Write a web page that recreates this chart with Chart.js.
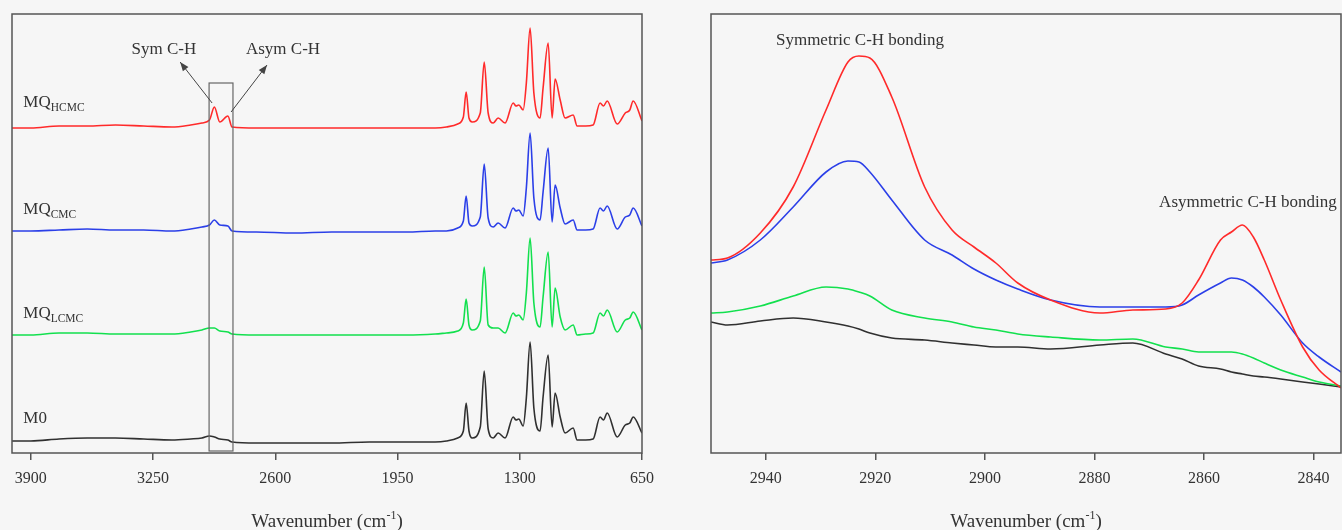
<!DOCTYPE html>
<html>
<head>
<meta charset="utf-8">
<script src="https://cdn.jsdelivr.net/npm/chart.js@4.4.1/dist/chart.umd.min.js"></script>
<style>
  body { margin: 0; background: #f6f6f6; }
  #wrap { position: relative; width: 1342px; height: 530px; }
  #fullChart { position: absolute; left: 0; top: 0; }
  #zoomChart { position: absolute; left: 670px; top: 0; }
</style>
</head>
<body>
<div id="wrap">
  <canvas id="fullChart" width="670" height="530"></canvas>
  <canvas id="zoomChart" width="672" height="530"></canvas>
</div>
<script>
// full range spectra, stacked (a.u.)
const fullWavenumbers = [4000, 3900, 3750, 3600, 3450, 3300, 3150, 3050, 2990, 2950, 2924, 2895, 2852, 2830, 2700, 2500, 2300, 2100, 1900, 1750,
  1690, 1630, 1600, 1585, 1570, 1553, 1510, 1489, 1468, 1441, 1415, 1378, 1335, 1320, 1305, 1282, 1265, 1245, 1225, 1192,
  1176, 1149, 1128, 1112, 1085, 1059, 1016, 995, 950, 910, 873, 855, 835, 782, 739, 715, 697, 650];
const fullHCMC = [3.25, 3.25, 3.27, 3.27, 3.28, 3.27, 3.26, 3.28, 3.30, 3.33, 3.46, 3.31, 3.37, 3.26, 3.25, 3.25, 3.25, 3.25, 3.25, 3.25,
  3.26, 3.29, 3.36, 3.61, 3.35, 3.31, 3.40, 3.91, 3.40, 3.30, 3.35, 3.30, 3.50, 3.47, 3.48, 3.43, 3.70, 4.25, 3.60, 3.35,
  3.65, 4.10, 3.35, 3.74, 3.53, 3.35, 3.38, 3.27, 3.27, 3.28, 3.50, 3.47, 3.52, 3.29, 3.40, 3.43, 3.52, 3.32];
const fullCMC = [2.22, 2.22, 2.23, 2.24, 2.23, 2.23, 2.22, 2.24, 2.26, 2.28, 2.33, 2.28, 2.27, 2.22, 2.21, 2.20, 2.21, 2.21, 2.21, 2.22,
  2.22, 2.25, 2.32, 2.57, 2.30, 2.27, 2.36, 2.89, 2.35, 2.26, 2.30, 2.25, 2.45, 2.42, 2.43, 2.37, 2.65, 3.20, 2.55, 2.33,
  2.61, 3.05, 2.31, 2.68, 2.45, 2.29, 2.33, 2.23, 2.23, 2.24, 2.45, 2.42, 2.47, 2.24, 2.36, 2.38, 2.45, 2.27];
const fullLCMC = [1.18, 1.18, 1.20, 1.20, 1.19, 1.19, 1.19, 1.21, 1.23, 1.25, 1.25, 1.22, 1.21, 1.19, 1.18, 1.18, 1.18, 1.18, 1.18, 1.19,
  1.20, 1.22, 1.30, 1.54, 1.28, 1.23, 1.32, 1.86, 1.28, 1.25, 1.25, 1.20, 1.40, 1.37, 1.38, 1.33, 1.60, 2.15, 1.50, 1.26,
  1.56, 2.01, 1.26, 1.65, 1.36, 1.23, 1.28, 1.18, 1.19, 1.20, 1.40, 1.37, 1.43, 1.21, 1.33, 1.35, 1.41, 1.23];
const fullM0 = [0.12, 0.12, 0.14, 0.15, 0.15, 0.14, 0.13, 0.14, 0.15, 0.17, 0.16, 0.14, 0.13, 0.11, 0.10, 0.10, 0.10, 0.11, 0.11, 0.11,
  0.12, 0.15, 0.22, 0.50, 0.22, 0.15, 0.26, 0.82, 0.24, 0.15, 0.20, 0.15, 0.36, 0.33, 0.34, 0.27, 0.55, 1.11, 0.45, 0.22,
  0.56, 0.98, 0.26, 0.60, 0.36, 0.20, 0.25, 0.13, 0.13, 0.14, 0.36, 0.33, 0.40, 0.16, 0.28, 0.30, 0.36, 0.20];

// C-H stretching region
const chWavenumbers = [2950, 2947, 2941, 2935, 2929, 2925, 2923, 2921, 2917, 2911, 2906, 2902, 2898, 2894, 2888, 2879, 2873, 2867, 2864, 2861,
  2857, 2855, 2853, 2851, 2849, 2846, 2842, 2839, 2835];
const chHCMC = [1.93, 1.95, 2.20, 2.66, 3.43, 3.91, 3.97, 3.95, 3.56, 2.66, 2.23, 2.06, 1.90, 1.70, 1.53, 1.40, 1.43, 1.44, 1.50, 1.73,
  2.13, 2.21, 2.28, 2.16, 1.93, 1.53, 1.06, 0.83, 0.65];
const chCMC = [1.90, 1.93, 2.13, 2.46, 2.81, 2.92, 2.91, 2.81, 2.53, 2.13, 1.98, 1.84, 1.73, 1.64, 1.53, 1.46, 1.46, 1.46, 1.48, 1.58,
  1.70, 1.75, 1.73, 1.66, 1.56, 1.38, 1.10, 0.96, 0.81];
const chLCMC = [1.40, 1.41, 1.47, 1.57, 1.66, 1.64, 1.61, 1.57, 1.43, 1.35, 1.31, 1.26, 1.23, 1.19, 1.16, 1.13, 1.14, 1.06, 1.04, 1.01,
  1.01, 1.01, 0.99, 0.95, 0.90, 0.83, 0.76, 0.71, 0.67];
const chM0 = [1.31, 1.28, 1.32, 1.35, 1.31, 1.27, 1.24, 1.20, 1.15, 1.13, 1.10, 1.08, 1.06, 1.06, 1.04, 1.08, 1.10, 0.99, 0.94, 0.87,
  0.84, 0.81, 0.79, 0.77, 0.76, 0.74, 0.71, 0.69, 0.66];

const fullTicks = [3900, 3250, 2600, 1950, 1300, 650];
const chTicks = [2940, 2920, 2900, 2880, 2860, 2840];

const sampleNames = ['MQ', 'MQ', 'MQ', 'M0'];
const sampleSubs = ['HCMC', 'CMC', 'LCMC', ''];
const sampleColors = ['#ff2a2a', '#2b3fe8', '#12e04e', '#303030'];

const serif = 'Liberation Serif, Times New Roman, serif';
const ink = '#333';

function pairs(xs, ys) {
  return xs.map((x, i) => ({ x: x, y: ys[i] }));
}

function lineSets(xs, series) {
  return series.map((ys, i) => ({
    data: pairs(xs, ys),
    borderColor: sampleColors[i],
    borderWidth: 1.6,
    pointRadius: 0,
    cubicInterpolationMode: 'monotone',
    fill: false
  }));
}

function at(chart, wn, v) {
  return { x: chart.scales.x.getPixelForValue(wn), y: chart.scales.y.getPixelForValue(v) };
}

function arrow(ctx, a, b) {
  const ang = Math.atan2(b.y - a.y, b.x - a.x);
  ctx.beginPath();
  ctx.moveTo(a.x, a.y);
  ctx.lineTo(b.x, b.y);
  ctx.stroke();
  ctx.beginPath();
  ctx.moveTo(b.x, b.y);
  ctx.lineTo(b.x - 9 * Math.cos(ang) + 3.5 * Math.sin(ang), b.y - 9 * Math.sin(ang) - 3.5 * Math.cos(ang));
  ctx.lineTo(b.x - 9 * Math.cos(ang) - 3.5 * Math.sin(ang), b.y - 9 * Math.sin(ang) + 3.5 * Math.cos(ang));
  ctx.closePath();
  ctx.fill();
}

// frame around plot area + x axis title with superscript
const framePlugin = {
  id: 'frame',
  afterDraw(chart) {
    const ctx = chart.ctx, a = chart.chartArea;
    ctx.save();
    ctx.strokeStyle = '#555';
    ctx.lineWidth = 1.5;
    ctx.strokeRect(a.left, a.top, a.right - a.left, a.bottom - a.top);

    const main = 'Wavenumber (cm', sup = '-1', tail = ')';
    ctx.fillStyle = ink;
    ctx.textBaseline = 'alphabetic';
    ctx.font = '19px ' + serif;
    const w1 = ctx.measureText(main).width, w3 = ctx.measureText(tail).width;
    ctx.font = '12px ' + serif;
    const w2 = ctx.measureText(sup).width;
    let x = (a.left + a.right) / 2 - (w1 + w2 + w3) / 2;
    const y = a.bottom + 74;
    ctx.font = '19px ' + serif;
    ctx.fillText(main, x, y);
    ctx.font = '12px ' + serif;
    ctx.fillText(sup, x + w1, y - 8);
    ctx.font = '19px ' + serif;
    ctx.fillText(tail, x + w1 + w2, y);
    ctx.restore();
  }
};

function axisOptions(min, max, ticks) {
  return {
    x: {
      type: 'linear',
      min: min,
      max: max,
      reverse: true,
      afterBuildTicks: s => { s.ticks = ticks.map(v => ({ value: v })); },
      afterFit: s => { s.height = 77; },
      grid: { display: true, drawOnChartArea: false, drawTicks: true, tickLength: 7, color: '#555', lineWidth: 1.5 },
      border: { display: false },
      ticks: {
        font: { family: serif, size: 16 }, color: ink, padding: 9, maxRotation: 0, autoSkip: false,
        callback: v => String(v)
      }
    },
    y: { min: 0, max: 4.39, display: false }
  };
}

const baseOptions = {
  responsive: false,
  devicePixelRatio: 1,
  animation: false,
  plugins: { legend: { display: false }, tooltip: { enabled: false } }
};

// full spectrum with C-H window and sample labels
const fullNotes = {
  id: 'fullNotes',
  afterDatasetsDraw(chart) {
    const ctx = chart.ctx;
    ctx.save();
    ctx.strokeStyle = '#666';
    ctx.lineWidth = 1.2;
    const p1 = at(chart, 2952, 3.70), p2 = at(chart, 2825, 0.02);
    ctx.strokeRect(p1.x, p1.y, p2.x - p1.x, p2.y - p1.y);

    ctx.strokeStyle = '#444';
    ctx.fillStyle = '#444';
    ctx.lineWidth = 1;
    arrow(ctx, at(chart, 2936, 3.50), at(chart, 3106, 3.91));
    arrow(ctx, at(chart, 2835, 3.41), at(chart, 2644, 3.88));

    ctx.fillStyle = ink;
    ctx.font = '17px ' + serif;
    ctx.textAlign = 'center';
    let t = at(chart, 3192, 3.99);
    ctx.fillText('Sym C-H', t.x, t.y);
    t = at(chart, 2559, 3.99);
    ctx.fillText('Asym C-H', t.x, t.y);

    ctx.textAlign = 'left';
    const labelY = [3.46, 2.39, 1.35, 0.30];
    sampleNames.forEach((name, i) => {
      const p = at(chart, 3940, labelY[i]);
      ctx.font = '17px ' + serif;
      ctx.fillText(name, p.x, p.y);
      const w = ctx.measureText(name).width;
      ctx.font = '11.5px ' + serif;
      ctx.fillText(sampleSubs[i], p.x + w, p.y + 4);
    });
    ctx.restore();
  }
};

new Chart(document.getElementById('fullChart'), {
  type: 'line',
  data: { datasets: lineSets(fullWavenumbers, [fullHCMC, fullCMC, fullLCMC, fullM0]) },
  options: Object.assign({}, baseOptions, {
    layout: { padding: { left: 12, top: 14, right: 28, bottom: 0 } },
    scales: axisOptions(650, 4000, fullTicks)
  }),
  plugins: [framePlugin, fullNotes]
});

// zoom on C-H stretching bands
const chNotes = {
  id: 'chNotes',
  afterDatasetsDraw(chart) {
    const ctx = chart.ctx;
    ctx.save();
    ctx.fillStyle = ink;
    ctx.font = '17px ' + serif;
    ctx.textAlign = 'center';
    let t = at(chart, 2922.8, 4.08);
    ctx.fillText('Symmetric C-H bonding', t.x, t.y);
    t = at(chart, 2852.0, 2.46);
    ctx.fillText('Asymmetric C-H bonding', t.x, t.y);
    ctx.restore();
  }
};

new Chart(document.getElementById('zoomChart'), {
  type: 'line',
  data: { datasets: lineSets(chWavenumbers, [chHCMC, chCMC, chLCMC, chM0]) },
  options: Object.assign({}, baseOptions, {
    layout: { padding: { left: 41, top: 14, right: 1, bottom: 0 } },
    scales: axisOptions(2835, 2950, chTicks)
  }),
  plugins: [framePlugin, chNotes]
});
</script>
</body>
</html>
